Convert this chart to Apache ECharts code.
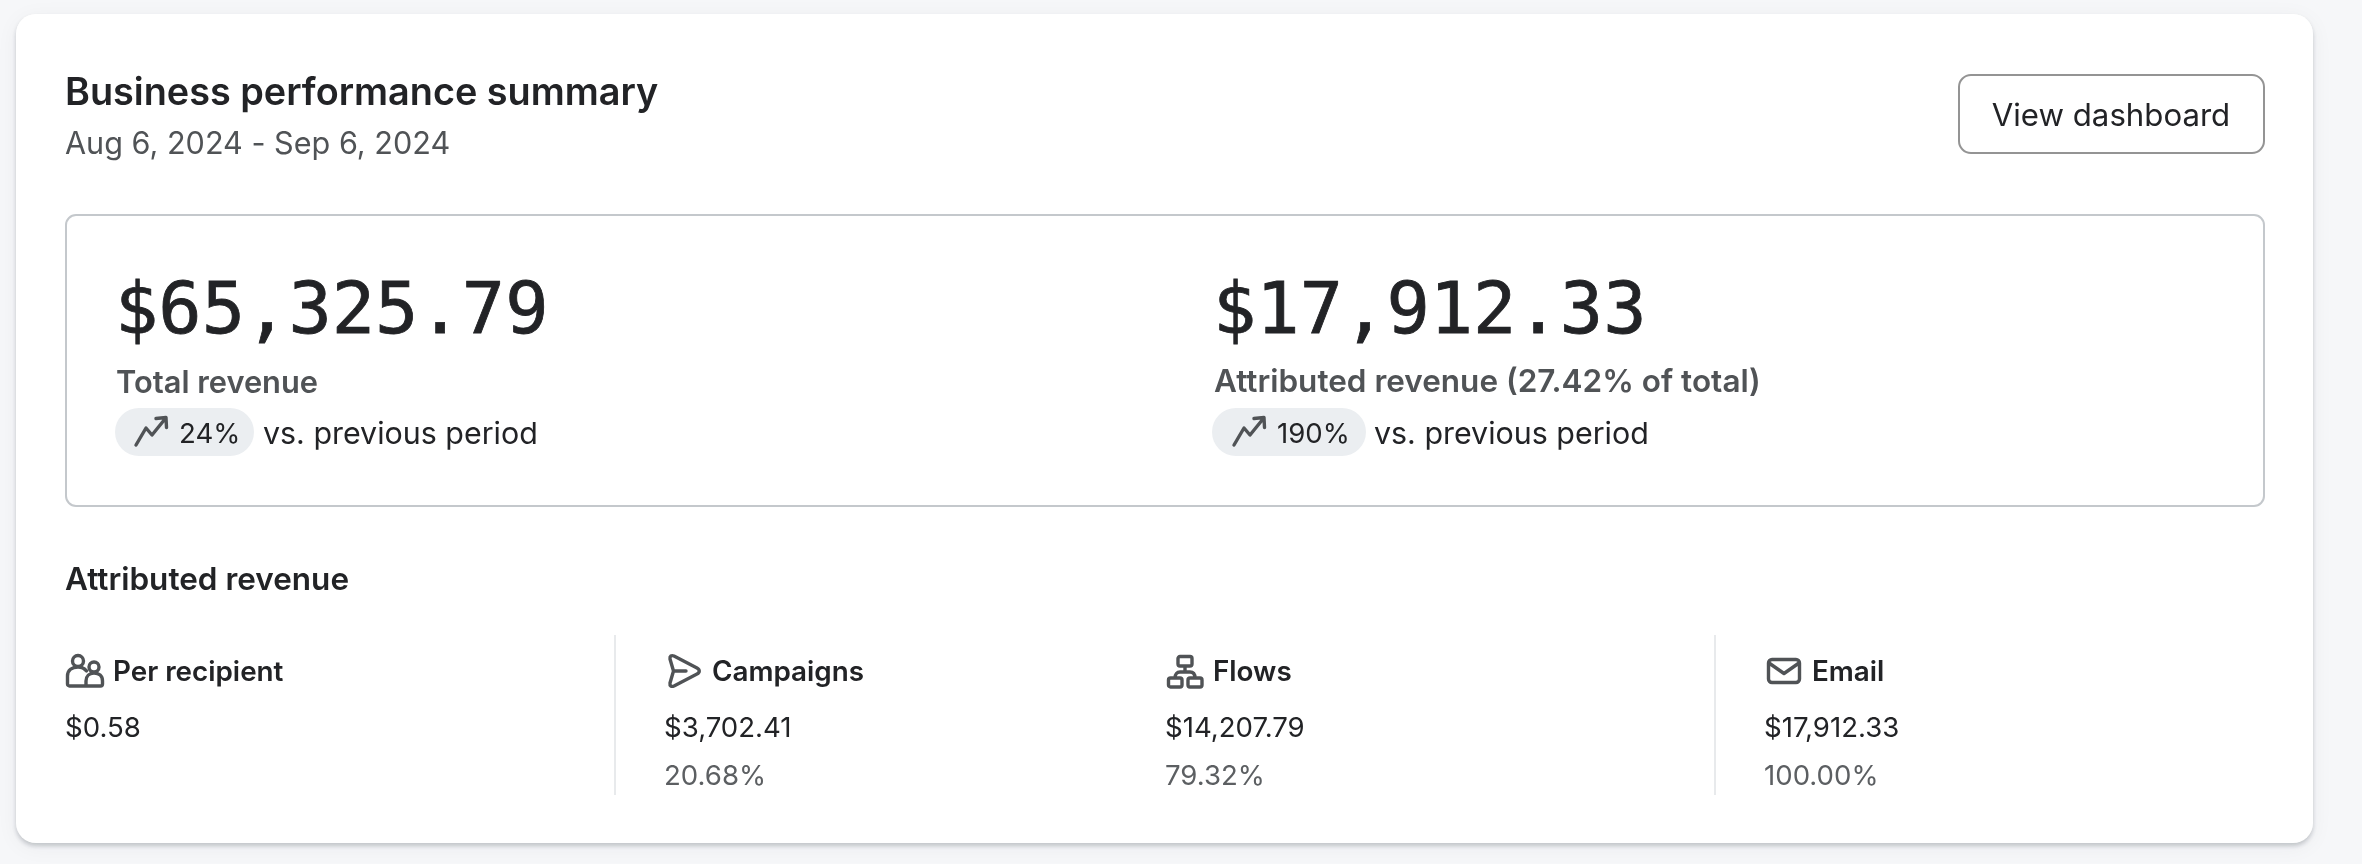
<!DOCTYPE html>
<html>
<head>
<meta charset="utf-8" />
<style>
  html, body { margin: 0; padding: 0; background: #f6f7f9; }
  #main { width: 2362px; height: 864px; }
</style>
</head>
<body>
<div id="main"></div>
<script src="https://cdn.jsdelivr.net/npm/echarts@6/dist/echarts.min.js"></script>
<script>
const cardTitle = 'Business performance summary';
const cardDates = 'Aug 6, 2024 - Sep 6, 2024';
const buttonLabel = 'View dashboard';
const sectionTitle = 'Attributed revenue';

const metricValues = ['$65,325.79', '$17,912.33'];
const metricLabels = ['Total revenue', 'Attributed revenue (27.42% of total)'];
const metricChanges = ['24%', '190%'];
const changeSuffix = 'vs. previous period';

const channelNames = ['Per recipient', 'Campaigns', 'Flows', 'Email'];
const channelValues = ['$0.58', '$3,702.41', '$14,207.79', '$17,912.33'];
const channelShares = ['', '20.68%', '79.32%', '100.00%'];

const DARK = '#222326';
const GREY = '#505356';
const SOFT = '#5c5f62';
const ICON = '#505356';
const SANS = 'Inter, "Noto Sans", sans-serif';
const MONO = '"DejaVu Sans Mono", monospace';

const ICON_TREND = 'M1 28 L11 11 L17 18 L30 2 M21 1.5 L31 0.5 L31.5 10.5';
const ICON_PEOPLE = 'M17.5 7 a5.5 5.5 0 1 1 -11 0 a5.5 5.5 0 1 1 11 0 M33 13 a5 5 0 1 1 -10 0 a5 5 0 1 1 10 0 ' +
  'M20 32 V27 C20 22 23.5 19 28 19 C33 19 36.5 22 36.5 27 V30 a2 2 0 0 1 -2 2 H3.5 a2 2 0 0 1 -2 -2 V22 C1.5 16 6 13 12 13 C16 13 18.5 14.5 20.5 17';
const ICON_SEND = 'M3 5 C2.5 2 4.5 1 7 2 L30 14 C33 15.5 33 18.5 30 20 L7 32 C4.5 33 2.5 32 3 29 L6.5 17 Z M6.5 17 H19';
const ICON_FLOWS = 'M13 1.5 H23 a2 2 0 0 1 2 2 V9 a2 2 0 0 1 -2 2 H13 a2 2 0 0 1 -2 -2 V3.5 a2 2 0 0 1 2 -2 Z ' +
  'M3.5 23 H13 a2 2 0 0 1 2 2 V30 a2 2 0 0 1 -2 2 H3.5 a2 2 0 0 1 -2 -2 V25 a2 2 0 0 1 2 -2 Z ' +
  'M23 23 H33 a2 2 0 0 1 2 2 V30 a2 2 0 0 1 -2 2 H23 a2 2 0 0 1 -2 -2 V25 a2 2 0 0 1 2 -2 Z ' +
  'M18 11 V17 M8 23 C8 19 10 17 13 17 H23 C26 17 28 19 28 23';
const ICON_MAIL = 'M5 1.5 H29 a3.5 3.5 0 0 1 3.5 3.5 V21 a3.5 3.5 0 0 1 -3.5 3.5 H5 a3.5 3.5 0 0 1 -3.5 -3.5 V5 a3.5 3.5 0 0 1 3.5 -3.5 Z M2 5 L17 15.5 L32 5';

// the graphic component has no plain path type, icons go in as registered shapes
const iconPaths = { trend: ICON_TREND, people: ICON_PEOPLE, send: ICON_SEND, flows: ICON_FLOWS, mail: ICON_MAIL };
Object.keys(iconPaths).forEach(function (k) {
  echarts.graphic.registerShape('icon_' + k, echarts.graphic.extendPath(iconPaths[k], {}));
});

function label(text, x, baseline, size, weight, color, family, align, heavy) {
  const style = {
    text: text,
    font: (weight || 400) + ' ' + size + 'px ' + (family || SANS),
    fill: color || DARK,
    textAlign: align || 'left',
    textVerticalAlign: 'bottom'
  };
  if (heavy) {
    style.stroke = color || DARK;
    style.lineWidth = heavy;
  }
  return { type: 'text', x: x, y: baseline + size * 0.22, style: style };
}

function box(x, y, w, h, r, style) {
  return { type: 'rect', shape: { x: x, y: y, width: w, height: h, r: r }, style: style };
}

function icon(name, x, y, lineWidth) {
  return {
    type: 'icon_' + name,
    x: x,
    y: y,
    style: { fill: 'none', stroke: ICON, lineWidth: lineWidth || 3, lineJoin: 'round', lineCap: 'round' }
  };
}

const els = [];

// card, wide soft shadow first and the tight one over it
els.push(box(16, 14, 2297, 829, 20, {
  fill: '#fff', shadowBlur: 22, shadowOffsetY: 4, shadowColor: 'rgba(20,30,60,0.05)'
}));
els.push(box(16, 14, 2297, 829, 20, {
  fill: '#fff', shadowBlur: 4, shadowOffsetY: 3, shadowColor: 'rgba(20,30,40,0.2)'
}));

// header
els.push(label(cardTitle, 65, 104, 37.8, 600));
els.push(label(cardDates, 65, 154, 30.6, 400, GREY));
els.push(box(1959, 75, 305, 78, 12, { fill: '#fff', stroke: '#949494', lineWidth: 2 }));
els.push(label(buttonLabel, 2111, 125, 31.2, 400, DARK, SANS, 'center'));

// metrics box
els.push(box(66, 215, 2198, 291, 10, { fill: '#fff', stroke: '#c4c8cc', lineWidth: 2 }));

const metricValueX = [115, 1213];
const metricLabelX = [116, 1214];
const metricLabelSize = [30.8, 31.5];
const metricPill = [[115, 139], [1212, 154]];
const metricIcon = [135, 1233];
const metricChange = [179, 1277];
const metricSuffix = [263, 1374];
metricValues.forEach(function (v, i) {
  els.push(label(v, metricValueX[i], 334.5, 72, 400, DARK, MONO, 'left', 0.8));
  els.push(label(metricLabels[i], metricLabelX[i], 392, metricLabelSize[i], 600, GREY));
  els.push(box(metricPill[i][0], 408, metricPill[i][1], 48, 24, { fill: '#ebeef1' }));
  els.push(icon('trend', metricIcon[i], 417, 3.4));
  els.push(label(metricChanges[i], metricChange[i], 443, 27.6, 400));
  els.push(label(changeSuffix, metricSuffix[i], 443, 30.4, 400));
});

// attributed revenue row
els.push(label(sectionTitle, 65, 590, 31.5, 600));
[615, 1715].forEach(function (x) {
  els.push(box(x - 1, 635, 2, 160, 0, { fill: '#e8eaec' }));
});

const channelIcons = ['people', 'send', 'flows', 'mail'];
const channelIconPos = [[66, 654], [667, 654], [1167, 655], [1767, 658]];
const channelNameX = [113, 712, 1213, 1812];
const channelValueX = [65, 664, 1165, 1764];
channelNames.forEach(function (name, i) {
  els.push(icon(channelIcons[i], channelIconPos[i][0], channelIconPos[i][1], 3.4));
  els.push(label(name, channelNameX[i], 680.5, 27.8, 600));
  els.push(label(channelValues[i], channelValueX[i], 736.5, 27.6, 400));
  if (channelShares[i]) els.push(label(channelShares[i], channelValueX[i], 784.5, 27.6, 400, SOFT));
});

const chart = echarts.init(document.getElementById('main'));
chart.setOption({
  backgroundColor: '#f6f7f9',
  animation: false,
  graphic: { elements: els }
});
</script>
</body>
</html>
